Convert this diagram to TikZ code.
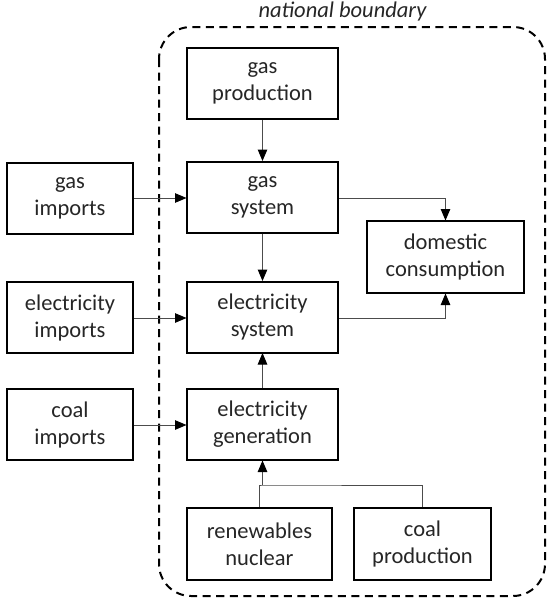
\documentclass[tikz,border=0pt]{standalone}
\usepackage{fontspec}
\setmainfont{Carlito}
\usetikzlibrary{arrows.meta}
\begin{document}
\begin{tikzpicture}[x=1pt,y=-1pt,
  box/.style={draw=black,line width=2pt,inner sep=0pt,align=center,text=black!85,
    font=\fontsize{22.5}{27}\selectfont},
  mainbox/.style={box,minimum width=151pt,minimum height=71pt},
  sidebox/.style={box,minimum width=126pt,minimum height=71pt},
  conn/.style={draw=black!70,line width=1pt},
  arr/.style={conn,-{Triangle[length=11.5pt,width=9.5pt,color=black]},shorten >=-0.5pt},
  boundary/.style={draw=black,line width=2pt,dash pattern=on 8pt off 5.5pt,rounded corners=32pt}]
\useasboundingbox (0,0) rectangle (550,605);
% boundary
\draw[boundary] (159,27) rectangle (545,596);
\node[font=\fontsize{22.5}{27}\selectfont\itshape,text=black!85,inner sep=0pt] (title) at (342.5,12) {national boundary};
% nodes
\node[mainbox] (gp) at (262.5,83.5) {gas\\production};
\node[mainbox] (gs) at (262.5,197) {gas\\system};
\node[mainbox] (es) at (262.5,317) {electricity\\system};
\node[mainbox] (eg) at (262.5,424.5) {electricity\\generation};
\node[sidebox] (gi) at (70,198) {gas\\imports};
\node[sidebox] (ei) at (70,317.5) {electricity\\imports};
\node[sidebox] (ci) at (70,424.5) {coal\\imports};
\node[box,minimum width=157pt,minimum height=72pt] (dc) at (445.5,257) {domestic\\consumption};
\node[box,minimum width=145pt,minimum height=72pt] (rn) at (259.5,544) {renewables\\nuclear};
\node[box,minimum width=137pt,minimum height=72pt] (cp) at (422.5,544) {coal\\production};
% connectors
\draw[arr] (gp) -- (gs);
\draw[arr] (gs) -- (es);
\draw[arr] (eg) -- (es);
\draw[arr] (gi.east |- 0,198) -- (gs.west |- 0,198);
\draw[arr] (ei.east |- 0,318) -- (es.west |- 0,318);
\draw[arr] (ci.east |- 0,425) -- (eg.west |- 0,425);
\draw[arr] (gs.east |- 0,198) -| (dc.north);
\draw[arr] (es.east |- 0,318) -| (dc.south);
\coordinate (j) at (262.5,485);
\draw[conn] (rn.north) |- (j) -| (cp.north);
\draw[arr] (j) -- (eg.south);
\end{tikzpicture}
\end{document}
